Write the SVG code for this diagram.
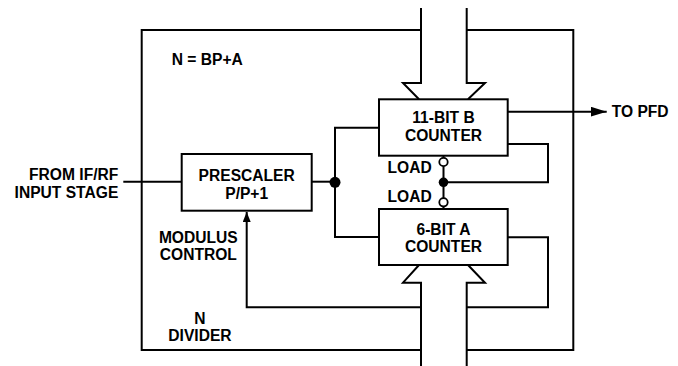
<svg xmlns="http://www.w3.org/2000/svg" width="678" height="366" viewBox="0 0 678 366">
<style>
.t{font-family:"Liberation Sans",Arial,sans-serif;font-weight:bold;font-size:15.6px;fill:#000}
.m{text-anchor:middle}
.e{text-anchor:end}
.b{fill:#fff;stroke:#000;stroke-width:2}
.l{fill:none;stroke:#000;stroke-width:2}
</style>
<defs>
<marker id="ah" markerWidth="10" markerHeight="8" refX="10" refY="4" orient="auto" markerUnits="userSpaceOnUse">
<path d="M0,0 L10,4 L0,8 Z" fill="#000"/>
</marker>
<marker id="ah2" markerWidth="16" markerHeight="10" refX="16" refY="5" orient="auto" markerUnits="userSpaceOnUse">
<path d="M0,0 L16,5 L0,10 Z" fill="#000"/>
</marker>
</defs>
<g id="outer">
<path class="l" d="M421,30 H141.7 V350 H421 M466.7,30 H573.3 V350 H466.7"/>
</g>
<g id="buses">
<path class="l" d="M421,8 V83 H403 L419,99.3 M466.7,8 V83 H485 L468,99.3"/>
<path class="l" d="M421,366 V282.7 H403 L419,265 M466.7,366 V282.7 H485 L468,265"/>
</g>
<g id="connectors">
<path class="l" d="M123.3,181.7 H181.7"/>
<path class="l" d="M311.7,181.7 H335"/>
<path class="l" d="M379,127.7 H335 V237 H379"/>
<path class="l" d="M507.7,111.7 H606.7" marker-end="url(#ah2)"/>
<path class="l" d="M507.7,144 H548 V182.3 H443.5"/>
<path class="l" d="M443.5,155.7 V158 M443.5,166 V198.5 M443.5,206.5 V209"/>
<path class="l" d="M507.7,237.3 H548 V307.3 H466.7"/>
<path class="l" d="M421,307.3 H246.7 V212" marker-end="url(#ah)"/>
<circle cx="335" cy="182.3" r="5.5" fill="#000"/>
<circle cx="443.5" cy="182.3" r="4.8" fill="#000"/>
<circle cx="443.5" cy="162" r="4.2" fill="#fff" stroke="#000" stroke-width="1.8"/>
<circle cx="443.5" cy="202.3" r="4.2" fill="#fff" stroke="#000" stroke-width="1.8"/>
</g>
<g id="bcounter">
<rect class="b" x="379" y="99.3" width="128.7" height="56.4"/>
<text class="t m" x="443.5" y="123.4">11-BIT B</text>
<text class="t m" x="443.5" y="140.8">COUNTER</text>
</g>
<g id="acounter">
<rect class="b" x="379" y="209" width="128.7" height="56"/>
<text class="t m" x="443.5" y="234.8">6-BIT A</text>
<text class="t m" x="443.5" y="252.2">COUNTER</text>
</g>
<g id="prescaler">
<rect class="b" x="181.7" y="154" width="130" height="56.7"/>
<text class="t m" x="246.7" y="181.3">PRESCALER</text>
<text class="t m" x="246.7" y="198.9">P/P+1</text>
</g>
<g id="labels">
<text class="t" x="171.7" y="64.6">N = BP+A</text>
<text class="t e" x="118.3" y="179.6">FROM IF/RF</text>
<text class="t e" x="118.3" y="198.3">INPUT STAGE</text>
<text class="t m" x="198.3" y="242.9">MODULUS</text>
<text class="t m" x="198.3" y="259.9">CONTROL</text>
<text class="t m" x="200" y="323.6">N</text>
<text class="t m" x="200" y="341.3">DIVIDER</text>
<text class="t e" x="431.7" y="172.9">LOAD</text>
<text class="t e" x="431.7" y="202.3">LOAD</text>
<text class="t" x="611.7" y="117.3">TO PFD</text>
</g>
</svg>
